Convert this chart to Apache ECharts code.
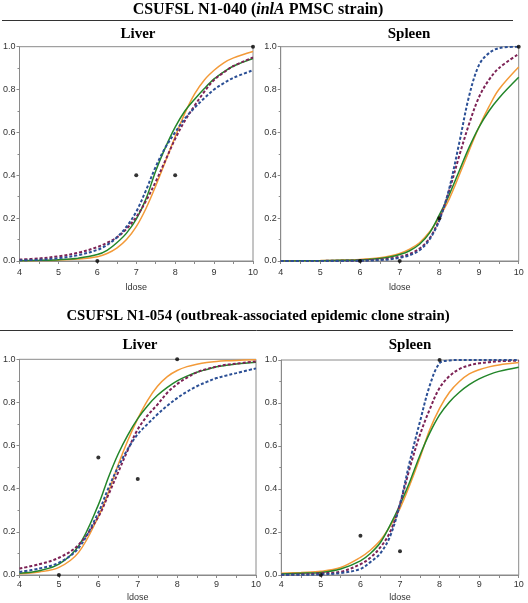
<!DOCTYPE html>
<html>
<head>
<meta charset="utf-8">
<script src="https://cdn.jsdelivr.net/npm/echarts@6/dist/echarts.min.js"></script>
<style>html,body{margin:0;padding:0;background:#fff;}#c{width:528px;height:603px;}</style>
</head>
<body>
<div id="c"></div>
<script>
// dose grid shared by all fitted curves
const xs = [4, 4.5, 5, 5.5, 6, 6.25, 6.5, 6.75, 7, 7.25, 7.5, 7.75, 8, 8.25, 8.5, 8.75, 9, 9.25, 9.5, 10];
const xTicks = [4, 5, 6, 7, 8, 9, 10];
const yTicks = [0, 0.2, 0.4, 0.6, 0.8, 1.0];

// CSUFSL N1-040 Liver
const tlOrange = [0.001,0.002,0.004,0.009,0.02,0.035,0.06,0.1,0.16,0.245,0.35,0.465,0.58,0.69,0.78,0.845,0.89,0.925,0.948,0.978];
const tlGreen  = [0.001,0.003,0.006,0.013,0.03,0.05,0.085,0.13,0.195,0.29,0.42,0.53,0.625,0.7,0.755,0.805,0.85,0.883,0.91,0.945];
const tlPurple = [0.007,0.012,0.022,0.038,0.065,0.085,0.11,0.15,0.205,0.28,0.37,0.47,0.57,0.655,0.725,0.79,0.845,0.88,0.91,0.95];
const tlBlue   = [0.003,0.006,0.013,0.027,0.052,0.075,0.11,0.16,0.23,0.33,0.44,0.53,0.6,0.665,0.715,0.76,0.8,0.83,0.855,0.89];
const tlDots   = [[6,0],[7,0.4],[8,0.4],[10,1]];

// CSUFSL N1-040 Spleen
const tsOrange = [0.0005,0.001,0.002,0.004,0.007,0.01,0.015,0.023,0.035,0.055,0.085,0.135,0.205,0.29,0.4,0.515,0.625,0.72,0.8,0.905];
const tsGreen  = [0.0003,0.0006,0.0012,0.003,0.005,0.008,0.012,0.019,0.03,0.048,0.078,0.13,0.215,0.31,0.42,0.53,0.625,0.7,0.76,0.857];
const tsPurple = [0,0,0.0005,0.001,0.002,0.004,0.007,0.012,0.02,0.033,0.058,0.105,0.195,0.33,0.49,0.64,0.765,0.845,0.9,0.966];
const tsBlue   = [0,0,0,0.0005,0.001,0.002,0.004,0.008,0.015,0.027,0.05,0.1,0.19,0.34,0.55,0.77,0.915,0.97,0.993,1.0];
const tsDots   = [[6,0],[7,0],[8,0.2],[10,1]];

// CSUFSL N1-054 Liver
const blOrange = [0.006,0.014,0.035,0.105,0.27,0.38,0.51,0.625,0.725,0.81,0.875,0.92,0.948,0.966,0.977,0.985,0.99,0.993,0.995,0.998];
const blGreen  = [0.008,0.02,0.05,0.135,0.325,0.45,0.56,0.65,0.725,0.785,0.833,0.87,0.9,0.922,0.94,0.953,0.965,0.972,0.978,0.986];
const blPurple = [0.03,0.05,0.08,0.14,0.27,0.37,0.475,0.58,0.675,0.74,0.79,0.845,0.885,0.915,0.94,0.955,0.966,0.975,0.98,0.99];
const blBlue   = [0.014,0.03,0.057,0.125,0.29,0.4,0.5,0.585,0.653,0.7,0.745,0.785,0.82,0.85,0.875,0.895,0.913,0.925,0.936,0.958];
const blDots   = [[5,0],[6,0.545],[7,0.445],[8,1]];

// CSUFSL N1-054 Spleen
const bsOrange = [0.008,0.012,0.017,0.035,0.082,0.115,0.16,0.227,0.31,0.42,0.543,0.675,0.775,0.85,0.9,0.935,0.955,0.968,0.977,0.988];
const bsGreen  = [0.005,0.008,0.012,0.028,0.066,0.1,0.15,0.232,0.327,0.435,0.555,0.66,0.745,0.805,0.85,0.885,0.912,0.932,0.947,0.966];
const bsPurple = [0.001,0.003,0.008,0.015,0.05,0.08,0.128,0.2,0.33,0.5,0.65,0.77,0.87,0.925,0.958,0.975,0.985,0.99,0.994,0.997];
const bsBlue   = [0.001,0.001,0.003,0.009,0.028,0.06,0.1,0.18,0.33,0.53,0.71,0.88,0.985,0.998,1,1,1,1,1,1];
const bsDots   = [[5,0],[6,0.182],[7,0.111],[8,1]];

const C_ORANGE = '#f39a38', C_GREEN = '#23862a', C_PURPLE = '#7d2356', C_BLUE = '#2b4f95';
const SANS = 'Liberation Sans, Arial, sans-serif';
const SERIF = 'Liberation Serif, Times New Roman, serif';

const grids = [
  {left: 14, top: 46.7, width: 239, height: 214.3},
  {left: 280.7, top: 46.7, width: 238, height: 214.3},
  {left: 14.7, top: 359.3, width: 241.3, height: 218},
  {left: 281.3, top: 360, width: 237.4, height: 216}
];
const labelMargins = [7, 7, 5, 5];
const nameGaps = [22, 22, 18, 18];

function xAxis(i) {
  return {
    gridIndex: i, type: 'value', min: 4, max: 10, interval: 1,
    name: 'ldose', nameLocation: 'middle', nameGap: nameGaps[i],
    nameTextStyle: {fontSize: 9, color: '#333', fontFamily: SANS},
    axisLine: {show: true, lineStyle: {color: '#8a8a8a'}},
    axisTick: {show: true, length: 3, inside: false, lineStyle: {color: '#8a8a8a'}},
    minorTick: {show: true, splitNumber: 2, length: 3, lineStyle: {color: '#8a8a8a'}},
    splitLine: {show: false},
    axisLabel: {fontSize: 9, color: '#333', fontFamily: SANS, margin: labelMargins[i],
      formatter: v => xTicks.includes(v) ? String(v) : ''}
  };
}
function yAxis(i) {
  return {
    gridIndex: i, type: 'value', min: 0, max: 1, interval: 0.2,
    axisLine: {show: true, lineStyle: {color: '#8a8a8a'}},
    axisTick: {show: true, length: 3, lineStyle: {color: '#8a8a8a'}},
    minorTick: {show: true, splitNumber: 2, length: 2, lineStyle: {color: '#8a8a8a'}},
    splitLine: {show: false},
    axisLabel: {fontSize: 9, color: '#333', fontFamily: SANS, margin: 4,
      formatter: v => yTicks.some(t => Math.abs(t - v) < 1e-9) ? v.toFixed(1) : ''}
  };
}
function curve(i, ys, color, dashed) {
  return {
    type: 'line', xAxisIndex: i, yAxisIndex: i,
    data: xs.map((x, j) => [x, ys[j]]),
    smooth: 0.35, showSymbol: false, silent: true,
    lineStyle: dashed ? {color, width: 2, type: [3, 2]} : {color, width: 1.5},
    z: dashed ? 3 : 2
  };
}
function dots(i, pts) {
  return {
    type: 'scatter', xAxisIndex: i, yAxisIndex: i, data: pts, clip: false,
    symbol: 'circle', symbolSize: 4, itemStyle: {color: '#000'}, z: 5
  };
}

const panels = [
  [tlOrange, tlGreen, tlPurple, tlBlue, tlDots],
  [tsOrange, tsGreen, tsPurple, tsBlue, tsDots],
  [blOrange, blGreen, blPurple, blBlue, blDots],
  [bsOrange, bsGreen, bsPurple, bsBlue, bsDots]
];
const series = [];
panels.forEach((p, i) => {
  series.push(curve(i, p[0], C_ORANGE, false));
  series.push(curve(i, p[1], C_GREEN, false));
  series.push(curve(i, p[2], C_PURPLE, true));
  series.push(curve(i, p[3], C_BLUE, true));
  series.push(dots(i, p[4]));
});

function txt(x, y, text, size, rich) {
  return {type: 'text', x, y, silent: true,
    style: {text, fontSize: size, fontWeight: 'bold', fontFamily: SERIF, fill: '#000',
      align: 'center', verticalAlign: 'middle', rich}};
}
function richTitle(size) {
  return {
    b: {fontSize: size, fontWeight: 'bold', fontFamily: SERIF, fill: '#000'},
    i: {fontSize: size, fontWeight: 'bold', fontStyle: 'italic', fontFamily: SERIF, fill: '#000'}
  };
}

const chart = echarts.init(document.getElementById('c'), null, {renderer: 'canvas'});
chart.setOption({
  backgroundColor: '#fff',
  animation: false,
  grid: grids.map(g => Object.assign({show: true, borderColor: '#8a8a8a', borderWidth: 1, backgroundColor: 'transparent'}, g)),
  xAxis: [0, 1, 2, 3].map(xAxis),
  yAxis: [0, 1, 2, 3].map(yAxis),
  series,
  graphic: [
    txt(258, 10, '{b|CSUFSL N1-040 (}{i|inlA}{b| PMSC strain)}', 16, richTitle(16)),
    {type: 'line', silent: true, shape: {x1: 2, y1: 20.5, x2: 513, y2: 20.5}, style: {stroke: '#333', lineWidth: 1}},
    txt(138, 34, 'Liver', 15),
    txt(409, 34, 'Spleen', 15),
    txt(258, 316, '{b|CSUFSL N1-054 (outbreak-associated epidemic clone strain)}', 15, richTitle(14.8)),
    {type: 'line', silent: true, shape: {x1: 0, y1: 330.5, x2: 513, y2: 330.5}, style: {stroke: '#333', lineWidth: 1}},
    txt(140, 345, 'Liver', 15),
    txt(410, 345, 'Spleen', 15)
  ]
});
</script>
</body>
</html>
